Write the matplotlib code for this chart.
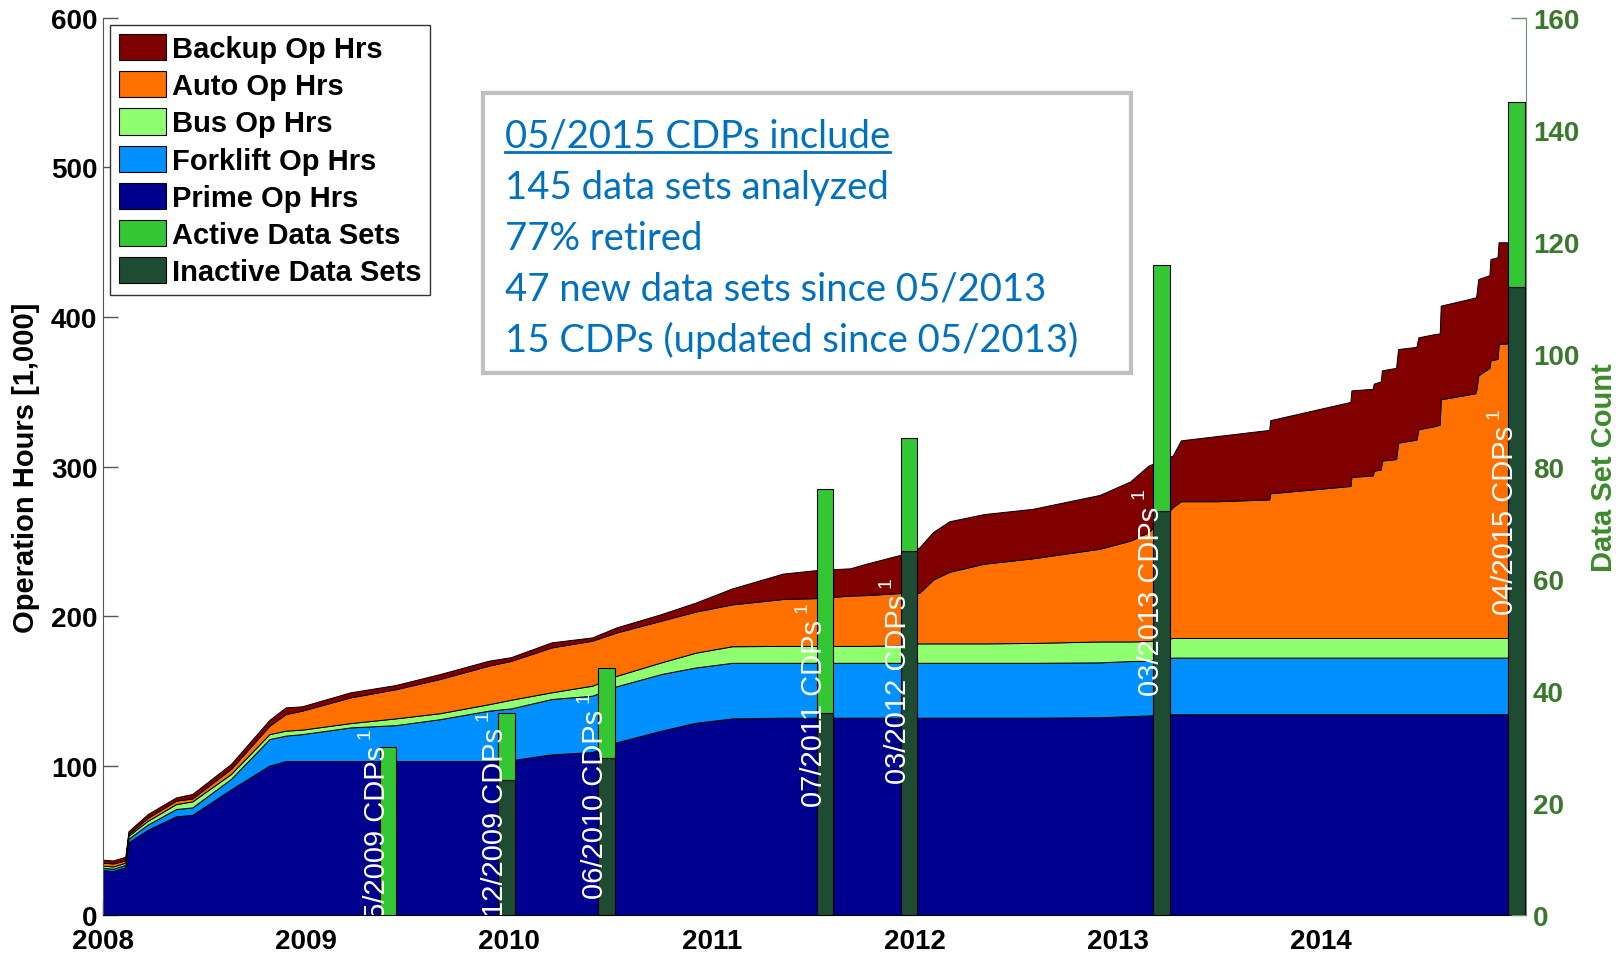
import numpy as np
import matplotlib
matplotlib.use('Agg')
import matplotlib.pyplot as plt
from matplotlib.patches import Patch, Rectangle
from matplotlib.lines import Line2D
from matplotlib.transforms import offset_copy

plt.rcParams['font.family'] = ['Liberation Sans', 'DejaVu Sans']

# ---- cumulative operation hours [1,000] (top edge of each stacked layer) ----
years = [2008.00, 2008.05, 2008.11, 2008.125, 2008.22, 2008.36, 2008.44, 2008.63,
         2008.82, 2008.90, 2008.98, 2009.22, 2009.44, 2009.66, 2009.90, 2010.01,
         2010.21, 2010.41, 2010.53, 2010.75, 2010.92, 2011.10, 2011.35, 2011.52,
         2011.68, 2011.76, 2011.93, 2012.02, 2012.09, 2012.17, 2012.34, 2012.58,
         2012.91, 2013.06, 2013.15, 2013.27, 2013.31, 2013.49, 2013.745, 2013.75,
         2014.145, 2014.15, 2014.255, 2014.26, 2014.295, 2014.30, 2014.37, 2014.38,
         2014.47, 2014.48, 2014.56, 2014.585, 2014.59, 2014.76, 2014.765, 2014.775,
         2014.83, 2014.835, 2014.87, 2014.875, 2014.99, 2014.995, 2015.01]

prime_top = [30, 29.5, 32, 48.6, 57, 66, 67, 84, 100, 103, 103, 103, 103, 103, 103, 103.5,
             107.5, 109, 115.5, 123.3, 128.6, 131.5, 132, 132, 132, 132, 132, 132, 132, 132,
             132, 132, 132.3, 133, 133.5] + [134.3] * 26 + [185, 185]

forklift_top = [31.5, 31, 33.5, 51, 60.5, 70.9, 72, 91, 117.7, 120, 121, 125.5, 127, 131,
                136.7, 138.2, 144.5, 146.7, 153, 161.2, 165.6, 168.7, 168.7, 168.7, 168.7,
                168.7, 168.7, 168.7, 168.7, 168.7, 168.7, 168.7, 169, 169.9, 170] \
               + [172.2] * 26 + [222, 222]

bus_top = [33, 32.5, 35, 53, 63, 74.2, 76, 94.3, 121, 123.3, 124, 128.4, 131.5, 135, 141,
           144, 149, 153.4, 160, 169, 175.5, 179.8, 180, 180, 180, 180, 180.5, 181.7, 181.7,
           181.7, 181.7, 182, 183, 183, 183.2] + [185.3] * 26 + [234, 234]

auto_top = [35, 34.5, 36.5, 54, 65, 76.5, 78, 97.7, 126.6, 134.4, 136.7, 145.6, 151, 157.9,
            166.8, 170, 179, 183.5, 189, 196.9, 203, 207.8, 211.4, 212, 213.7, 214, 215.4,
            215.4, 224.4, 229.6, 235, 238.6, 245, 250.4, 256, 272.8, 276.8, 276.8, 278,
            282.1, 287, 293.1, 294, 297.2, 298, 304, 305, 316, 318, 325, 327, 328, 345,
            349, 351, 361, 366, 371, 372, 382, 383, 458, 458]

backup_top = [37, 36.5, 39, 56, 67.5, 78.7, 81, 101, 130.6, 138.9, 139.6, 149, 153.8, 161.2,
              170.1, 172.5, 182.4, 185.7, 192.4, 201.3, 209, 218.5, 228.4, 230.8, 231.9, 235,
              241, 245.7, 256.3, 263.4, 268.2, 271.7, 281, 290, 300.6, 307.4, 317.5, 320.4,
              324.5, 331, 343.2, 350.9, 352, 355.4, 357, 364.3, 366, 378.6, 380, 386.4,
              388.6, 389, 407.6, 413, 414, 425.4, 428, 438.8, 440, 450, 450, 527, 527]

layer_names = ['Prime Op Hrs', 'Forklift Op Hrs', 'Bus Op Hrs', 'Auto Op Hrs', 'Backup Op Hrs']
layer_colors = ['#00008F', '#0090FF', '#8FFF70', '#FF7000', '#800000']

# ---- data set counts per CDP release ----
cdp_dates = [2009.405, 2009.987, 2010.48, 2011.557, 2011.97, 2013.215, 2014.963]
cdp_labels = ['05/2009 CDPs', '12/2009 CDPs', '06/2010 CDPs', '07/2011 CDPs',
              '03/2012 CDPs', '03/2013 CDPs', '04/2015 CDPs']
inactive_sets = [0, 24, 28, 36, 65, 72, 112]
active_sets = [30, 12, 16, 40, 20, 44, 33]
label_tops = [126, 138, 150, 210, 227, 286, 340]   # top of the footnote mark, left-axis units

active_color = '#33C833'
inactive_color = '#1D4C33'

box_lines = ['05/2015 CDPs include', '145 data sets analyzed', '77% retired',
             '47 new data sets since 05/2013', '15 CDPs (updated since 05/2013)']

BAR_W = 0.081

fig = plt.figure(figsize=(16.22, 9.54), dpi=100)
ax = fig.add_axes([0.0635, 0.0398, 0.8773, 0.9403])
ax.set_axisbelow(True)

lower = np.zeros(len(years))
for top, color in zip([prime_top, forklift_top, bus_top, auto_top, backup_top], layer_colors):
    ax.fill_between(years, lower, top, facecolor=color, edgecolor='black', linewidth=0.7)
    lower = np.asarray(top, dtype=float)

ax.set_xlim(2008, 2015.01)
ax.set_ylim(0, 600)
ax.set_xticks(range(2008, 2015))
ax.set_yticks(range(0, 601, 100))
ax.tick_params(axis='both', direction='in', length=11, width=1, color='#555555',
               labelsize=20)
ax.tick_params(axis='y', pad=4)
ax.tick_params(axis='x', pad=9)
for lab in ax.get_xticklabels() + ax.get_yticklabels():
    lab.set_fontweight('bold')
ax.spines['top'].set_visible(False)
ax.spines['right'].set_visible(False)
ax.spines['left'].set_color('#555555')
ax.spines['bottom'].set_color('black')
ax.set_ylabel('Operation Hours [1,000]', fontsize=21, fontweight='bold', labelpad=8)

# ---- right axis: data set bars ----
ax2 = ax.twinx()
ax2.set_axisbelow(True)
ax2.bar(cdp_dates, inactive_sets, width=BAR_W, color=inactive_color,
        edgecolor='black', linewidth=0.8)
ax2.bar(cdp_dates, active_sets, width=BAR_W, bottom=inactive_sets, color=active_color,
        edgecolor='black', linewidth=0.8)
ax2.set_ylim(0, 160)
ax2.set_yticks(range(0, 161, 20))
ax2.tick_params(axis='y', direction='in', length=11, width=1, color='#6E8F6E',
                labelcolor='#3A782C', labelsize=20, pad=5)
for lab in ax2.get_yticklabels():
    lab.set_fontweight('bold')
for s in ['left', 'top', 'bottom']:
    ax2.spines[s].set_visible(False)
ax2.spines['right'].set_color('#6E8F6E')
ax2.set_ylabel('Data Set Count', fontsize=21, fontweight='bold', color='#3D8B2D',
               labelpad=8)

# rotated CDP labels with a raised footnote mark
main_tf = offset_copy(ax.transData, fig=fig, x=0, y=-13, units='points')
for d, lab, ytop in zip(cdp_dates, cdp_labels, label_tops):
    x_lab = d - BAR_W / 2 + 0.055
    ax2.text(x_lab, ytop, lab, rotation=90, ha='right', va='top', color='white',
             fontsize=21, transform=main_tf, clip_on=True)
    ax2.text(x_lab, ytop, '1', rotation=90, ha='right', va='top', color='white',
             fontsize=14, transform=offset_copy(ax.transData, fig=fig, x=-12.5, y=0,
                                                units='points'),
             clip_on=True)

handles = [Patch(facecolor=c, edgecolor='black', linewidth=0.8)
           for c in layer_colors[::-1]]
handles += [Patch(facecolor=active_color, edgecolor='black', linewidth=0.8),
            Patch(facecolor=inactive_color, edgecolor='black', linewidth=0.8)]
names = layer_names[::-1] + ['Active Data Sets', 'Inactive Data Sets']
leg = ax2.legend(handles, names, loc='upper left', fancybox=False, framealpha=1,
                 prop={'size': 21, 'weight': 'bold'}, borderaxespad=0.25,
                 borderpad=0.3, handletextpad=0.2, labelspacing=0.28,
                 handlelength=1.6, handleheight=1.0)
leg.get_frame().set_edgecolor('#333333')
leg.get_frame().set_linewidth(1.0)

# ---- annotation box ----
fig.patches.append(Rectangle((0.2978, 0.608), 0.3995, 0.2935, transform=fig.transFigure,
                             facecolor='white', edgecolor='#BFBFBF', linewidth=3,
                             zorder=5))
baselines = [0.8449, 0.7914, 0.7379, 0.6845, 0.6310]
texts = []
for line, yb in zip(box_lines, baselines):
    texts.append(fig.text(0.3113, yb, line, fontsize=27.5, color='#0070C0',
                          family=['Lato', 'DejaVu Sans'], va='baseline', ha='left',
                          zorder=6))

fig.canvas.draw()
bb = texts[0].get_window_extent().transformed(fig.transFigure.inverted())
fig.add_artist(Line2D([bb.x0, bb.x1], [baselines[0] - 0.0055] * 2, transform=fig.transFigure,
                      color='#0070C0', linewidth=2, zorder=6))

fig.savefig('out.png', dpi=100)
